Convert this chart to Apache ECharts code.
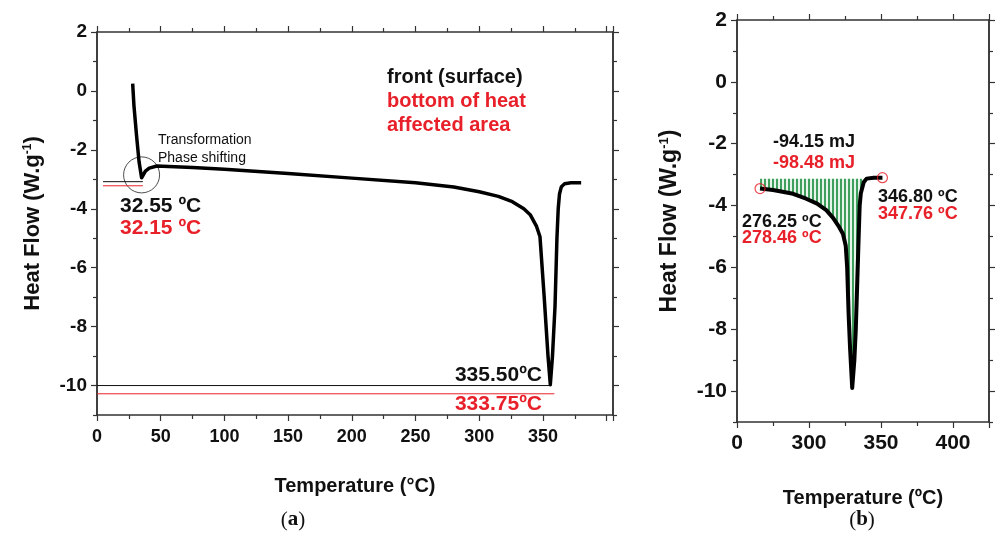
<!DOCTYPE html>
<html>
<head>
<meta charset="utf-8">
<title>DSC</title>
<script src="https://cdn.jsdelivr.net/npm/echarts@6/dist/echarts.min.js"></script>
</head>
<body style="margin:0;background:#fff">
<div id="container" style="width:998px;height:536px"></div>
<script>
// (a) full DSC scan
var leftT = [28, 29, 31, 33, 35, 36.5, 38, 41, 47, 75, 100, 150, 200, 250, 280, 300, 315, 326, 335, 340, 345, 347.7, 351, 354, 355.8, 357.5, 359.5, 361, 362, 363, 364.5, 367, 372, 380];
var leftHF = [0.25, -0.5, -1.5, -2.4, -2.95, -2.9, -2.72, -2.62, -2.55, -2.6, -2.66, -2.8, -2.96, -3.12, -3.26, -3.42, -3.58, -3.76, -4.0, -4.2, -4.6, -4.95, -7.0, -9.0, -9.97, -9.0, -7.3, -5.0, -4.0, -3.5, -3.25, -3.15, -3.12, -3.12];
// reference lines: [T start, T end, heat flow]
var onsetBlack = [4.7, 36, -3.08];
var onsetRed = [4.7, 36, -3.22];
var peakBlack = [0, 356.5, -10];
var peakRed = [0, 359, -10.28];
var circlePt = [35, -2.85];

// (b) zoom on the melting peak
var rightT = [266, 275, 289, 298, 305.6, 312, 316.7, 321, 323.6, 325.5, 326.5, 327.5, 328.5, 330, 331.5, 332.5, 333.5, 334.5, 335.2, 336, 338, 340, 345, 351];
var rightHF = [-3.45, -3.5, -3.62, -3.78, -3.94, -4.15, -4.4, -4.7, -4.92, -5.3, -6.0, -7.5, -8.6, -9.9, -9.0, -8.0, -6.5, -5.0, -4.0, -3.6, -3.25, -3.13, -3.1, -3.1];
var baseline = -3.13;
var fillRange = [266, 340];

var yMajor = [-10, -8, -6, -4, -2, 0, 2];
var yMinor = [-11, -9, -7, -5, -3, -1, 1];

var RED = '#e8202a';
var AX = '#333';

function zip(a, b) { return a.map(function (v, i) { return [v, b[i]]; }); }
function seg(s) { return [[s[0], s[2]], [s[1], s[2]]]; }

// hatch pattern
var pat = document.createElement('canvas');
pat.width = 4; pat.height = 4;
var pctx = pat.getContext('2d');
pctx.fillStyle = '#e6f4e9';
pctx.fillRect(0, 0, 4, 4);
pctx.fillStyle = '#3f9f5c';
pctx.fillRect(0, 0, 2, 4);

var fillPts = zip(rightT, rightHF).filter(function (p) { return p[0] >= fillRange[0] && p[0] <= fillRange[1]; });

var font = 'Liberation Sans, Arial, sans-serif';

function xAx(grid, pos, min, max, fs, margin, name, gap, fmt) {
  return {
    type: 'value', gridIndex: grid, position: pos, min: min, max: max, interval: 50,
    name: name || '', nameLocation: 'middle', nameGap: gap || 0,
    nameTextStyle: { fontFamily: font, fontWeight: 'bold', fontSize: 20, color: '#111' },
    axisLine: { show: true, onZero: false, lineStyle: { color: AX, width: 1.5 } },
    axisTick: { show: true, length: 6, lineStyle: { color: AX, width: 1.2 } },
    minorTick: { show: true, splitNumber: 2, length: 4, lineStyle: { color: AX, width: 1.2 } },
    axisLabel: { show: pos === 'bottom', showMaxLabel: false, margin: margin, fontFamily: font, fontWeight: 'bold', fontSize: fs, color: '#111', formatter: fmt },
    splitLine: { show: false }, minorSplitLine: { show: false }
  };
}
function yAx(grid, pos, vals, len, showLabel, fs, nameFs, gap) {
  return {
    type: 'value', gridIndex: grid, position: pos, min: -11, max: 2,
    name: showLabel ? '{a|Heat Flow (W.g}{s|-1}{a|)}' : '',
    nameLocation: 'middle', nameGap: gap || 0,
    nameTextStyle: { rich: {
      a: { fontFamily: font, fontWeight: 'bold', fontSize: nameFs, color: '#111', lineHeight: nameFs },
      s: { fontFamily: font, fontWeight: 'bold', fontSize: Math.round(nameFs * 0.55), color: '#111', verticalAlign: 'top', lineHeight: nameFs }
    } },
    axisLine: { show: true, onZero: false, lineStyle: { color: AX, width: 1.5 } },
    axisTick: { show: true, length: len, customValues: vals, lineStyle: { color: AX, width: 1.2 } },
    axisLabel: { show: showLabel, customValues: vals, margin: 10, fontFamily: font, fontWeight: 'bold', fontSize: fs, color: '#111' },
    splitLine: { show: false }
  };
}

var chart = echarts.init(document.getElementById('container'));
var option = {
  animation: false,
  grid: [
    { left: 97, top: 32, right: 385, bottom: 121 },
    { left: 737, top: 20, right: 9, bottom: 114 }
  ],
  xAxis: [
    xAx(0, 'bottom', 0, 405, 18, 13, 'Temperature (°C)', 61, function (v) { return v > 350 ? '' : v; }),
    xAx(0, 'top', 0, 405, 18, 8),
    xAx(1, 'bottom', 250, 425, 21, 11, 'Temperature (ºC)', 66, function (v) { return v === 250 ? '0' : (v > 400 ? '' : v); }),
    xAx(1, 'top', 250, 425, 21, 8)
  ],
  yAxis: [
    yAx(0, 'left', yMajor, 6, true, 19, 22, 53),
    yAx(0, 'left', yMinor, 4, false),
    yAx(0, 'right', yMajor, 6, false),
    yAx(0, 'right', yMinor, 4, false),
    yAx(1, 'left', yMajor, 6, true, 21, 23, 56),
    yAx(1, 'left', yMinor, 4, false),
    yAx(1, 'right', yMajor, 6, false),
    yAx(1, 'right', yMinor, 4, false)
  ],
  series: [
    { type: 'line', xAxisIndex: 0, yAxisIndex: 0, data: seg(peakBlack), showSymbol: false, lineStyle: { color: '#111', width: 1 } },
    { type: 'line', xAxisIndex: 0, yAxisIndex: 0, data: seg(peakRed), showSymbol: false, lineStyle: { color: RED, width: 1 } },
    { type: 'line', xAxisIndex: 0, yAxisIndex: 0, data: seg(onsetBlack), showSymbol: false, lineStyle: { color: '#111', width: 1 } },
    { type: 'line', xAxisIndex: 0, yAxisIndex: 0, data: seg(onsetRed), showSymbol: false, lineStyle: { color: RED, width: 1 } },
    { type: 'line', xAxisIndex: 0, yAxisIndex: 0, data: zip(leftT, leftHF), showSymbol: false, lineStyle: { color: '#000', width: 3.5, join: 'round' } },
    { type: 'scatter', xAxisIndex: 0, yAxisIndex: 0, data: [circlePt], symbolSize: 36,
      itemStyle: { color: 'rgba(0,0,0,0)', borderColor: '#222', borderWidth: 1 } },
    // hatched area between baseline and curve (b)
    { type: 'custom', xAxisIndex: 2, yAxisIndex: 4, data: fillPts, z: 1,
      renderItem: function (params, api) {
        if (params.dataIndex !== 0) return;
        var pts = [api.coord([fillPts[0][0], baseline]), api.coord([fillPts[fillPts.length - 1][0], baseline])];
        for (var i = fillPts.length - 1; i >= 0; i--) pts.push(api.coord(fillPts[i]));
        return { type: 'polygon', shape: { points: pts }, style: { fill: { image: pat, repeat: 'repeat' } } };
      } },
    { type: 'line', xAxisIndex: 2, yAxisIndex: 4, data: zip(rightT, rightHF), showSymbol: false, z: 3, lineStyle: { color: '#000', width: 4, join: 'round' } },
    { type: 'scatter', xAxisIndex: 2, yAxisIndex: 4, z: 4, data: [[rightT[0], rightHF[0]], [rightT[rightT.length - 1], rightHF[rightHF.length - 1]]],
      symbolSize: 10, itemStyle: { color: 'rgba(0,0,0,0)', borderColor: RED, borderWidth: 1.2 } }
  ],
  graphic: []
};

function txt(x, y, s, size, color, weight, align) {
  option.graphic.push({ type: 'text', x: x, y: y, silent: true,
    style: { text: s, fill: color, font: (weight || 'bold') + ' ' + size + 'px ' + font, align: align || 'left', verticalAlign: 'middle' } });
}
txt(158, 140, 'Transformation', 14, '#111', 'normal');
txt(158, 158, 'Phase shifting', 14, '#111', 'normal');
txt(120, 206, '32.55 ºC', 21, '#111');
txt(120, 228, '32.15 ºC', 21, RED);
txt(387, 77, 'front (surface)', 20, '#111');
txt(387, 101, 'bottom of heat', 20, RED);
txt(387, 125, 'affected area', 20, RED);
txt(542, 375, '335.50ºC', 21, '#111', 'bold', 'right');
txt(542, 404, '333.75ºC', 21, RED, 'bold', 'right');
txt(773, 142, '-94.15 mJ', 18, '#111');
txt(773, 163, '-98.48 mJ', 18, RED);
txt(742, 222, '276.25 ºC', 18, '#111');
txt(742, 238, '278.46 ºC', 18, RED);
txt(878, 197, '346.80 ºC', 18, '#111');
txt(878, 214, '347.76 ºC', 18, RED);
['a', 'b'].forEach(function (k, i) {
  option.graphic.push({ type: 'text', x: i ? 862 : 293, y: 520, silent: true,
    style: { text: '({b|' + k + '})', fill: '#111', font: '21px Liberation Serif, serif', align: 'center', verticalAlign: 'middle',
      rich: { b: { fontFamily: 'Liberation Serif, serif', fontWeight: 'bold', fontSize: 21, fill: '#111' } } } });
});

chart.setOption(option);
</script>
</body>
</html>
